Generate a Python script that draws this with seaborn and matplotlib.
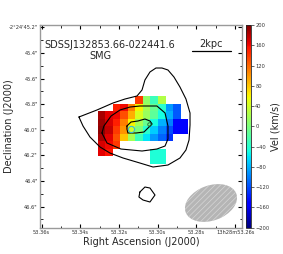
import numpy as np
import matplotlib
matplotlib.use("Agg")
import matplotlib.pyplot as plt
import seaborn as sns
from matplotlib.patches import Ellipse
from matplotlib.ticker import FixedLocator, FixedFormatter

sns.set_style("ticks")
plt.rcParams['font.family'] = ['DejaVu Sans']
plt.rcParams['hatch.linewidth'] = 0.5

nan = np.nan
# velocity map (km/s), first row is the northern-most row, first column the eastern-most
vel = np.array([
    [nan, nan, nan, nan, nan, 140,  10, -30,  25, nan, nan, nan],
    [nan, nan, 150, 160, 110,  60,  20, -10, -40, -90, -115, nan],
    [185, 165, 160, 130,  90,  45,  15, -15, -50, -80, -115, nan],
    [190, 170, 150, 110,  60,  20, -10, -50, -80, -100, -150, -150],
    [195, 175, 140, 100,  40,   0, -40, -70, -100, -120, -150, -150],
    [185, 165, 130,  80,  20, -30, -60, -90, -110, -130, nan, nan],
    [170, 160, 140, nan, nan, nan, nan, nan, nan, nan, nan, nan],
    [165, 155, nan, nan, nan, nan, nan, -45, -45, nan, nan, nan],
    [nan, nan, nan, nan, nan, nan, nan, -45, -45, nan, nan, nan],
])
ra0, dec0 = 53.330853, 45.7367      # corner of the map (RA s, Dec arcsec)
pix_ra, pix_dec = 0.003876, 0.05859

# flux contours (RA s, Dec arcsec)
outer = [(53.3407, 45.9008), (53.3314, 45.8461), (53.3231, 45.7914), (53.3169, 45.7602),
         (53.3107, 45.7367), (53.3081, 45.6898), (53.3066, 45.6117), (53.3040, 45.5492),
         (53.3009, 45.5180), (53.2978, 45.5180), (53.2947, 45.5336), (53.2916, 45.5883),
         (53.2885, 45.6664), (53.2854, 45.7602), (53.2833, 45.8695), (53.2833, 45.9633),
         (53.2838, 46.0805), (53.2854, 46.1586), (53.2885, 46.2211), (53.2947, 46.2758),
         (53.3024, 46.2914), (53.3092, 46.2602), (53.3179, 46.2211), (53.3247, 46.1820),
         (53.3298, 46.1352), (53.3350, 46.0570), (53.3386, 45.9711)]
middle = [(53.3288, 46.0258), (53.3278, 45.9711), (53.3241, 45.8930), (53.3195, 45.8461),
          (53.3143, 45.8227), (53.3092, 45.8148), (53.3004, 45.8148), (53.2962, 45.8695),
          (53.2947, 45.9711), (53.2947, 46.0727), (53.2962, 46.1273), (53.3004, 46.1508),
          (53.3081, 46.1664), (53.3190, 46.1508), (53.3262, 46.1039)]
inner = [(53.3159, 45.9711), (53.3138, 45.9398), (53.3102, 45.9320), (53.3066, 45.9164),
         (53.3040, 45.9320), (53.3029, 45.9555), (53.3050, 45.9867), (53.3071, 46.0180),
         (53.3112, 46.0258), (53.3154, 46.0258), (53.3159, 45.9945)]
blob = [(53.3092, 46.4867), (53.3066, 46.4477), (53.3040, 46.4555), (53.3014, 46.5102),
        (53.3040, 46.5648), (53.3076, 46.5492), (53.3097, 46.5258)]

ra_ticks = [53.36, 53.34, 53.32, 53.30, 53.28, 53.26]
ra_labels = ['53.36s', '53.34s', '53.32s', '53.30s', '53.28s', '13h28m53.26s']
ra_minor = [53.35, 53.33, 53.31, 53.29, 53.27]
dec_ticks = [45.2, 45.4, 45.6, 45.8, 46.0, 46.2, 46.4, 46.6]
dec_labels = ['-2\u00b024\'45.2"', '45.4"', '45.6"', '45.8"', '46.0"', '46.2"', '46.4"', '46.6"']
dec_minor = [45.3, 45.5, 45.7, 45.9, 46.1, 46.3, 46.5, 46.7]
cb_ticks = list(range(-200, 201, 40))

fig = plt.figure(figsize=(2.83, 2.54), dpi=100)
fig.patch.set_facecolor('white')
ax = fig.add_axes([0.1413, 0.1035, 0.7138, 0.7981])
cax = fig.add_axes([0.868, 0.1035, 0.019, 0.7981])

ra_edges = ra0 - pix_ra * np.arange(vel.shape[1] + 1)
dec_edges = dec0 + pix_dec * np.arange(vel.shape[0] + 1)
mesh = ax.pcolormesh(ra_edges, dec_edges, np.ma.masked_invalid(vel),
                     cmap='jet', vmin=-200, vmax=200)

for cont in [outer, middle, inner, blob]:
    pts = cont + [cont[0]]
    sns.lineplot(x=[p[0] for p in pts], y=[p[1] for p in pts], sort=False,
                 estimator=None, color='black', lw=0.8, ax=ax)

ax.plot(53.3138, 45.9945, 'o', mfc='none', mec='#33bbdd', ms=4.5, mew=0.8)
ax.plot(53.3045, 45.9555, 'o', mfc='none', mec='#226633', ms=2.5, mew=0.6)

beam = Ellipse((0.8465, 0.1219), 0.267, 0.173, angle=20, transform=ax.transAxes,
               facecolor='#b5b5b5', edgecolor='#d6d6d6', hatch='//////', lw=0)
ax.add_patch(beam)

# scale bar
ax.plot([53.28227, 53.26212], [45.3828, 45.3828], color='black', lw=0.9)
ax.text(53.2722, 45.372, '2kpc', ha='center', va='bottom', fontsize=7)

ax.text(0.02, 0.901, 'SDSSJ132853.66-022441.6', transform=ax.transAxes,
        ha='left', va='center', fontsize=7)
ax.text(0.297, 0.847, 'SMG', transform=ax.transAxes, ha='center', va='center', fontsize=7)

ax.set_xlim(53.36083, 53.25644)
ax.set_ylim(46.7656, 45.182)
ax.xaxis.set_major_locator(FixedLocator(ra_ticks))
ax.xaxis.set_major_formatter(FixedFormatter(ra_labels))
ax.xaxis.set_minor_locator(FixedLocator(ra_minor))
ax.yaxis.set_major_locator(FixedLocator(dec_ticks))
ax.yaxis.set_major_formatter(FixedFormatter(dec_labels))
ax.yaxis.set_minor_locator(FixedLocator(dec_minor))
ax.tick_params(which='both', direction='in', top=True, right=True, color='black',
               labelsize=3.7, labelcolor='#333333', pad=1.5)
ax.tick_params(which='major', length=3.2, width=0.8)
ax.tick_params(which='minor', length=1.8, width=0.6)
ax.set_xlabel('Right Ascension (J2000)', fontsize=7)
ax.set_ylabel('Declination (J2000)', fontsize=7)
ax.xaxis.set_label_coords(0.5, -0.045)
ax.yaxis.set_label_coords(-0.128, 0.5)
for sp in ax.spines.values():
    sp.set_color('#9a9a9a')
    sp.set_linewidth(1.0)

cb = fig.colorbar(mesh, cax=cax)
cb.set_ticks(cb_ticks)
cb.ax.tick_params(labelsize=3.7, labelcolor='#333333', length=2, width=0.5, pad=1)
cb.outline.set_linewidth(0.6)
cb.set_label('Vel (km/s)', fontsize=7, labelpad=1)

fig.savefig('out.png', dpi=100)
